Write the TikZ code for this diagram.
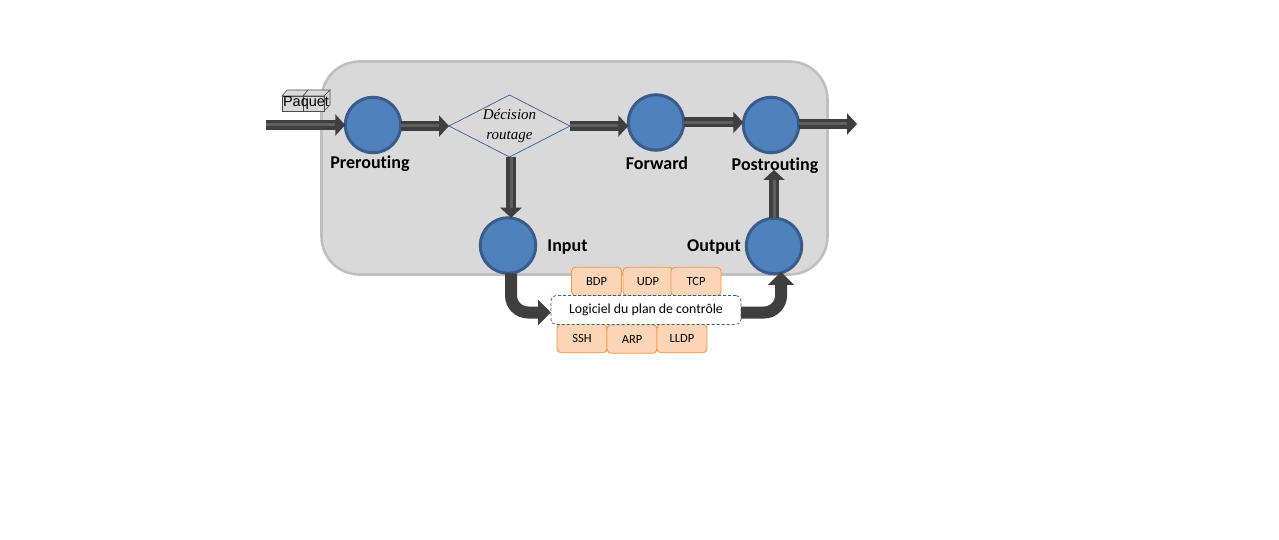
\documentclass[tikz,border=0pt]{standalone}
\usepackage{fontspec}
\setmainfont[Ligatures=NoCommon]{Carlito}
\newfontfamily\arialf{Liberation Sans}
\newfontfamily\timesf{Liberation Serif}
\usetikzlibrary{arrows.meta,shapes.geometric}
\definecolor{boxgray}{HTML}{D9D9D9}
\definecolor{boxedge}{HTML}{BFBFBF}
\definecolor{ballfill}{HTML}{4F81BD}
\definecolor{balledge}{HTML}{385D8A}
\definecolor{tagfill}{HTML}{FBD5B5}
\definecolor{tagedge}{HTML}{F79646}
\definecolor{arrowdark}{HTML}{3F3F3F}
\definecolor{arrowmid}{HTML}{5F5F5F}
\tikzset{
  ball/.style={circle,fill=ballfill,draw=balledge,line width=3pt,minimum size=55.5pt,inner sep=0pt,outer sep=0pt},
  tag/.style={rectangle,rounded corners=4pt,fill=tagfill,draw=tagedge,line width=0.9pt,minimum width=50pt,minimum height=28.5pt,inner sep=0pt,font=\fontsize{12.5}{14}\selectfont},
  lab/.style={inner sep=0pt,font=\fontsize{18}{20}\selectfont\bfseries},
  blockarrow/.style={draw=arrowdark,line width=10pt,-{Triangle[length=10pt,width=21pt,fill=arrowdark]},
    postaction={draw=arrowmid,line width=3pt,-,shorten >=10pt}},
  curvearrow/.style={draw=arrowdark,line width=12pt,rounded corners=17pt,-{Triangle[length=13pt,width=25pt,fill=arrowdark]}},
  cubeface/.style={draw=black!70,line width=0.6pt,fill=boxgray}
}
\begin{document}
\begin{tikzpicture}[x=1pt,y=-1pt]
\useasboundingbox (0,0) rectangle (1279,540);
\fill[white] (0,0) rectangle (1279,540);
\node[draw=boxedge,fill=boxgray,line width=2.6pt,rounded corners=38pt,minimum width=506pt,minimum height=213pt,inner sep=0pt,outer sep=0pt] (frame) at (574.5,168) {};
% packet cubes
\draw[cubeface] (282,96) -- (287,90) -- (308,90) -- (303,96) -- cycle;
\draw[cubeface] (303,96) -- (308,90) -- (330,90) -- (324,96) -- cycle;
\draw[cubeface] (324,96) -- (330,90) -- (330,105) -- (324,111) -- cycle;
\draw[cubeface] (282,96) rectangle (303,111);
\draw[cubeface] (303,96) rectangle (324,111);
\node[inner sep=0pt,font=\arialf\fontsize{14.5}{16}\selectfont] (paquet) at (306,103) {Paquet};
% nodes
\node[ball] (pre) at (373,125) {};
\node[ball] (fwd) at (656,122.5) {};
\node[ball] (post) at (771,125) {};
\node[ball] (inp) at (508,245.5) {};
\node[ball] (out) at (774,246) {};
\node[diamond,draw=balledge,line width=0.7pt,minimum width=121pt,minimum height=62pt,aspect=1.95,inner sep=0pt,outer sep=0pt,align=center,font=\timesf\itshape\fontsize{15}{20}\selectfont] (dec) at (509.5,126) {Décision\\routage};
\coordinate (in) at (266,125);
\coordinate (exit) at (857,124);
\coordinate (upend) at (774,170);
% arrows
\draw[blockarrow] (in) -- (pre.west |- in);
\draw[blockarrow] (pre.east |- dec.west) -- (dec.west);
\draw[blockarrow] (dec.east) -- (fwd.west |- dec.east);
\draw[blockarrow] (fwd.east) -- (post.west |- fwd.east);
\draw[blockarrow] (post.east |- exit) -- (exit);
\draw[blockarrow] ([xshift=1.5pt]dec.south) -- ([xshift=1.5pt]dec.south |- inp.north);
\draw[blockarrow] (out.north) -- (upend);
% labels
\node[lab] (lpre) at (370,163.5) {Prerouting};
\node[lab] (lfwd) at (657,163) {Forward};
\node[lab] (lpost) at (775,165.5) {Postrouting};
\node[lab] (linp) at (567.5,247.5) {Input};
\node[lab] (lout) at (714,247.5) {Output};
% control-plane box and tags
\node[tag] (bdp) at (596.5,281.5) {BDP};
\node[tag] (udp) at (648,281.5) {UDP};
\node[tag] (tcp) at (696,281.5) {TCP};
\node[tag] (ssh) at (582,338.5) {SSH};
\node[tag] (arp) at (632,339) {ARP};
\node[tag] (lldp) at (682,338.5) {LLDP};
\node[draw=balledge,densely dashed,line width=0.7pt,fill=white,rounded corners=5pt,minimum width=190pt,minimum height=29pt,inner sep=0pt,outer sep=0pt,font=\fontsize{13.8}{16}\selectfont] (log) at (646,310) {Logiciel du plan de contrôle};
\draw[curvearrow] ([xshift=3pt]inp.south) |- ([yshift=-2.5pt]log.west);
\draw[curvearrow] ([yshift=-2.5pt]log.east) -| ([xshift=7pt,yshift=2pt]out.south);
\end{tikzpicture}
\end{document}
